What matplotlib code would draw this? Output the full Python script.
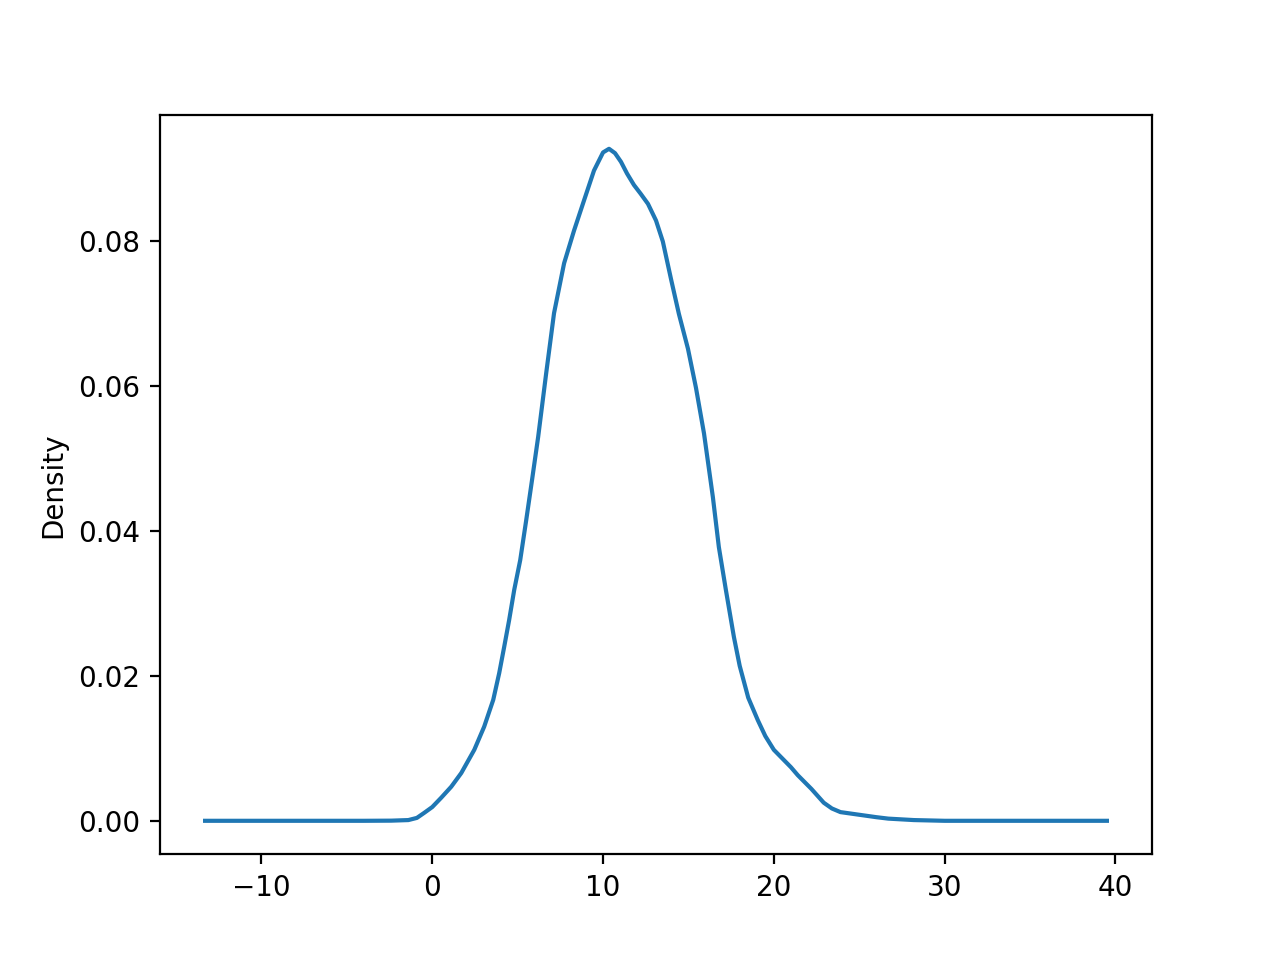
import matplotlib
matplotlib.use("Agg")
import matplotlib.pyplot as plt

# density curve values
x_vals = [-13.3, -8.0, -4.0, -2.4, -1.4, -0.9, -0.47, 0.0, 0.53, 1.11, 1.70,
          2.46, 3.04, 3.57, 3.92, 4.21, 4.50, 4.80, 5.15, 5.5, 5.85, 6.20,
          6.67, 7.13, 7.72, 8.30, 8.89, 9.47, 10.0, 10.35, 10.7, 11.05,
          11.4, 11.81, 12.2, 12.63, 13.1, 13.5, 13.98, 14.44, 14.97, 15.44,
          15.91, 16.43, 16.78, 17.19, 17.66, 18.0, 18.5, 19.06, 19.5, 20.0,
          21.0, 21.4, 22.2, 22.92, 23.4, 23.9, 25.1, 26.0, 26.7, 28.2, 30.0,
          35.0, 39.5]
density = [0.0, 0.0, 0.0, 0.00002, 0.0001, 0.0004, 0.0011, 0.0019, 0.0032,
           0.0047, 0.0066, 0.0098, 0.0130, 0.0167, 0.0204, 0.0240, 0.0277,
           0.0319, 0.0360, 0.0415, 0.0472, 0.0530, 0.0618, 0.0701, 0.0770,
           0.0815, 0.0857, 0.0898, 0.0923, 0.0928, 0.0922, 0.0910, 0.0894,
           0.0878, 0.0866, 0.0852, 0.0829, 0.0800, 0.0748, 0.0700, 0.0652,
           0.0598, 0.0535, 0.0447, 0.0378, 0.0319, 0.0254, 0.0214, 0.0170,
           0.0139, 0.0117, 0.0098, 0.0074, 0.0063, 0.0044, 0.0025, 0.0017,
           0.0012, 0.0008, 0.0005, 0.0003, 0.0001, 0.0, 0.0, 0.0]

fig, ax = plt.subplots(figsize=(6.4, 4.8), dpi=200)
ax.plot(x_vals, density, color="#1f77b4", lw=1.5)
ax.set_ylabel("Density")

fig.savefig("out.png")
